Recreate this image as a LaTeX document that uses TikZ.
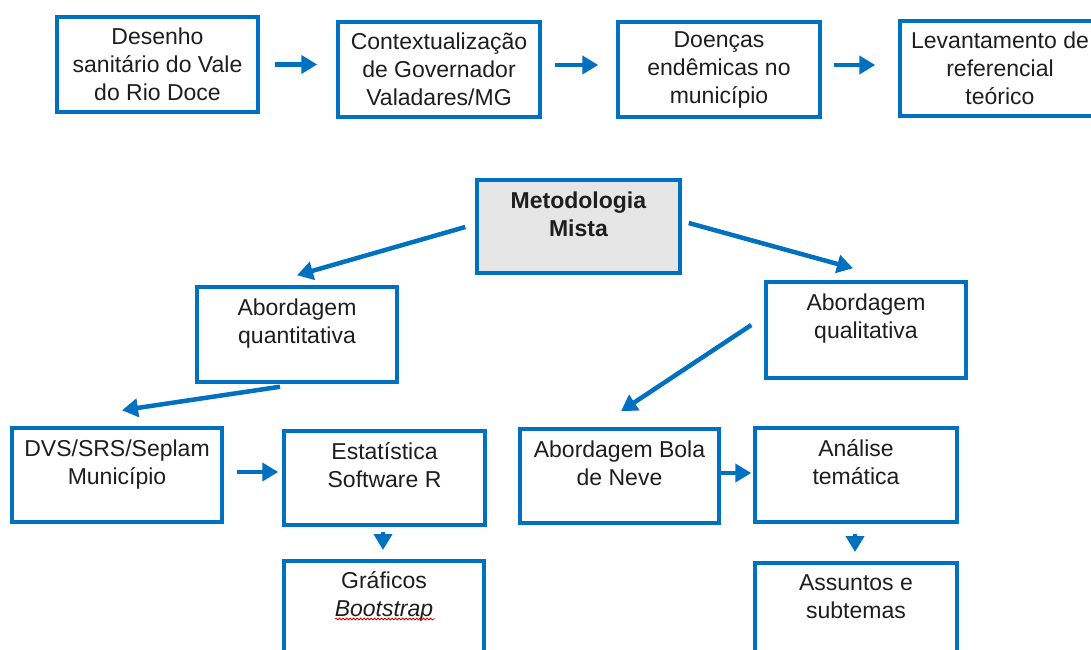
\documentclass[tikz,border=0pt]{standalone}
\usepackage{fontspec}
\setmainfont{Liberation Sans}
\usetikzlibrary{arrows.meta,calc,decorations.pathmorphing}
\definecolor{bl}{RGB}{0,112,192}
\definecolor{gr}{RGB}{230,230,230}
\definecolor{tx}{RGB}{30,30,30}
\newcommand{\tbox}[3]{\parbox[c][#2][t]{#1}{\centering\rule{0pt}{28pt}#3}}
\tikzset{
  box/.style={draw=bl, line width=3.5pt, inner sep=0pt, fill=white, text=tx,
    font=\fontsize{23}{28}\selectfont},
  topbox/.style={box, align=center, minimum width=201pt, minimum height=95pt},
  arr/.style={draw=bl, line width=4.5pt, -{Triangle[length=16pt,width=18pt]}},
  squig/.style={draw=red!85!black, line width=0.8pt,
    decorate, decoration={snake, amplitude=0.9pt, segment length=3.5pt}}
}
\begin{document}
\begin{tikzpicture}[x=1pt,y=-1pt]
\useasboundingbox (0,0) rectangle (1091,649);
\clip (0,0) rectangle (1091,649);
\fill[white] (0,0) rectangle (1091,649);

% top row
\node[topbox] (d1) at (157.5,64.5) {Desenho\\sanitário do Vale\\do Rio Doce};
\node[topbox, minimum width=202pt] (d2) at (439,69.5) {Contextualização\\de Governador\\Valadares/MG};
\node[topbox, minimum width=202pt] (d3) at (719,69.5) {Doenças\\endêmicas no\\município};
\node[topbox, minimum width=200pt] (d4) at (1000,68.5) {Levantamento de\\referencial\\teórico};

% middle
\node[box, fill=gr] (m) at (578.5,226.5) {\tbox{203pt}{93pt}{\textbf{Metodologia}\\\textbf{Mista}}};
\node[box] (q) at (297,334.5) {\tbox{200pt}{95pt}{Abordagem\\quantitativa}};
\node[box] (ql) at (866,330) {\tbox{200pt}{96pt}{Abordagem\\qualitativa}};

% bottom
\node[box] (dvs) at (117,475) {\tbox{210pt}{94pt}{DVS/SRS/Seplam\\Município}};
\node[box] (est) at (384.5,478) {\tbox{201pt}{94pt}{Estatística\\Software R}};
\node[box] (bola) at (619.5,476) {\tbox{199pt}{94pt}{Abordagem Bola\\de Neve}};
\node[box] (an) at (856,475) {\tbox{202pt}{94pt}{Análise\\temática}};
\node[box, anchor=north] (gra) at (384,559) {\tbox{200pt}{95pt}{Gráficos\\\textit{Bootstrap}}};
\node[box, anchor=north] (ass) at (856,561) {\tbox{202pt}{95pt}{Assuntos e\\subtemas}};

% spell-check underline
\coordinate (sq1) at ($(gra.north)+(-49,60)$);
\coordinate (sq2) at ($(gra.north)+(51,60)$);
\draw[squig] (sq1) -- (sq2);

% arrows
\draw[arr] ($(d1.east)+(15,0)$) -- ($(d1.east -| d2.west)+(-19,0)$);
\draw[arr] ($(d2.east)+(13,-4.5)$) -- ($(d3.west)+(-18,-4.5)$);
\draw[arr] ($(d3.east)+(12,-4.5)$) -- ($(d4.west)+(-23,-3.5)$);
\draw[arr] ($(m.west)+(-10,0.5)$) -- ($(q.north)+(0,-10)$);
\draw[arr] ($(m.east)+(7,-3.5)$) -- ($(ql.north)+(-13,-12)$);
\draw[arr] ($(q.south)+(-17,3)$) -- ($(dvs.north)+(5,-16)$);
\draw[arr] ($(ql.west)+(-13,-5)$) -- ($(bola.north)+(1.5,-16)$);
\draw[arr] ($(dvs.east)+(13,-3)$) -- ($(est.west)+(-4,-6)$);
\draw[arr] ($(bola.east)+(0,-3)$) -- ($(an.west)+(-2,-2)$);
\draw[arr] ($(est.south)+(-1.5,5)$) -- ($(gra.north)+(-1,-9)$);
\draw[arr] ($(an.south)+(-1,10)$) -- ($(ass.north)+(-1,-9)$);
\end{tikzpicture}
\end{document}
